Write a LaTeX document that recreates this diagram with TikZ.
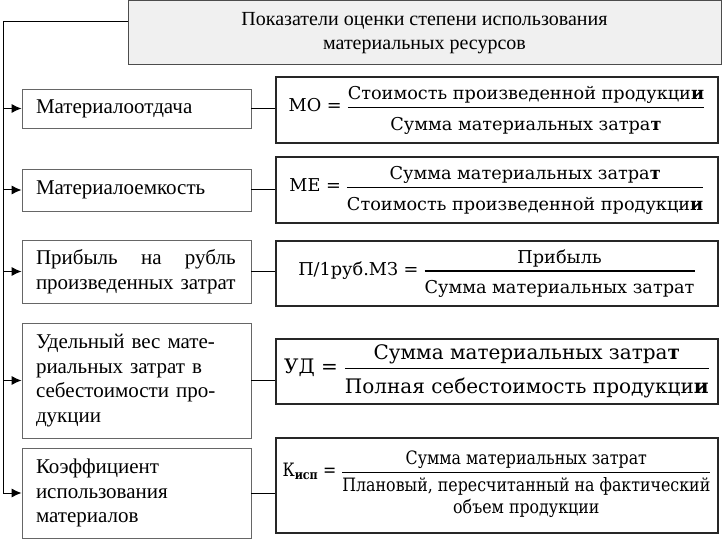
\documentclass[tikz,border=0pt]{standalone}
\usepackage{amsmath}
\usepackage{calc}
\usepackage{fontspec}
\setmainfont{Liberation Serif}
\newfontfamily\formfont{DejaVu Serif}
\newfontfamily\formnarrow[FakeStretch=0.86]{DejaVu Serif}
\usetikzlibrary{arrows.meta}

% fraction with a heavy rule
\newcommand{\frc}[2]{\genfrac{}{}{1.2pt}{0}{\text{#1}}{\text{\rule{0pt}{1.05em}#2}}}

\begin{document}
\begin{tikzpicture}[x=1pt, y=-1pt,
  titlebox/.style={draw=black!70, fill=black!6, line width=1pt, minimum width=593pt,
    minimum height=64pt, inner sep=0pt, align=center, font=\fontsize{20}{24}\selectfont},
  labelbox/.style={draw=black!60, line width=0.8pt, minimum width=229pt, text width=201pt,
    inner xsep=14pt, inner ysep=0pt, align=left, font=\fontsize{21}{24.5}\selectfont},
  formbox/.style={draw=black!85, line width=1.4pt, minimum width=442pt, inner sep=0pt,
    font=\formfont\fontsize{17.7}{21}\selectfont},
  feed/.style={-{Latex[length=10pt,width=9pt]}, line width=1pt}]

\useasboundingbox (0,0) rectangle (723,540);

\node[titlebox] (title) at (424.5,33) {Показатели оценки степени использования\\материальных ресурсов};

\node[labelbox, minimum height=39pt] (lab1) at (136.5,108.5) {Материалоотдача};
\node[labelbox, minimum height=42pt] (lab2) at (136.5,190) {Материалоемкость};
\node[labelbox, minimum height=63pt] (lab3) at (136.5,271.5)
  {\makebox[\widthof{произведенных затрат}][s]{Прибыль\hfill на\hfill рубль}\\произведенных затрат};
\node[labelbox, minimum height=115pt] (lab4) at (136.5,380.5)
  {Удельный вес мате-\\риальных затрат в\\себестоимости про-\\дукции};
\node[labelbox, minimum height=90pt] (lab5) at (136.5,493)
  {Коэффициент\\использования\\материалов};

\node[formbox, minimum height=66pt] (f1) at (497,110)
  {$\text{МО =}\;\frc{Стоимость произведенной продукци\textbf{и}}{Сумма материальных затра\textbf{т}}$};
\node[formbox, minimum height=66pt] (f2) at (497,190)
  {$\text{МЕ =}\;\frc{Сумма материальных затра\textbf{т}}{Стоимость произведенной продукци\textbf{и}}$};
\node[formbox, minimum height=65pt] (f3) at (497,273.5)
  {$\text{П/1руб.МЗ =}\;\frc{Прибыль}{Сумма материальных затрат}$};
\node[formbox, minimum height=65pt, font=\formfont\fontsize{20}{23}\selectfont] (f4) at (497,371.5)
  {$\text{УД =}\;\frc{Сумма материальных затра\textbf{т}}{Полная себестоимость продукци\textbf{и}}$};
\node[formbox, minimum height=95pt, font=\formnarrow\fontsize{18.4}{22}\selectfont] (f5) at (497,485.5)
  {$\text{К}_{\textbf{исп}}\;\text{=}\;\frc{Сумма материальных затрат}{\begin{tabular}{@{}c@{}}Плановый, пересчитанный на фактический\\объем продукции\end{tabular}}$};

% trunk and arrows
\coordinate (corner) at (3,22);
\draw[line width=1pt] (title.west |- corner) -- (corner);
\draw[feed] (corner) |- (lab5.west);
\foreach \n in {1,...,4}
  \draw[feed] (corner |- lab\n.west) -- (lab\n.west);

\foreach \n in {1,...,5}
  \draw[line width=1pt] (lab\n.east) -- (lab\n.east -| f\n.west);
\end{tikzpicture}
\end{document}
